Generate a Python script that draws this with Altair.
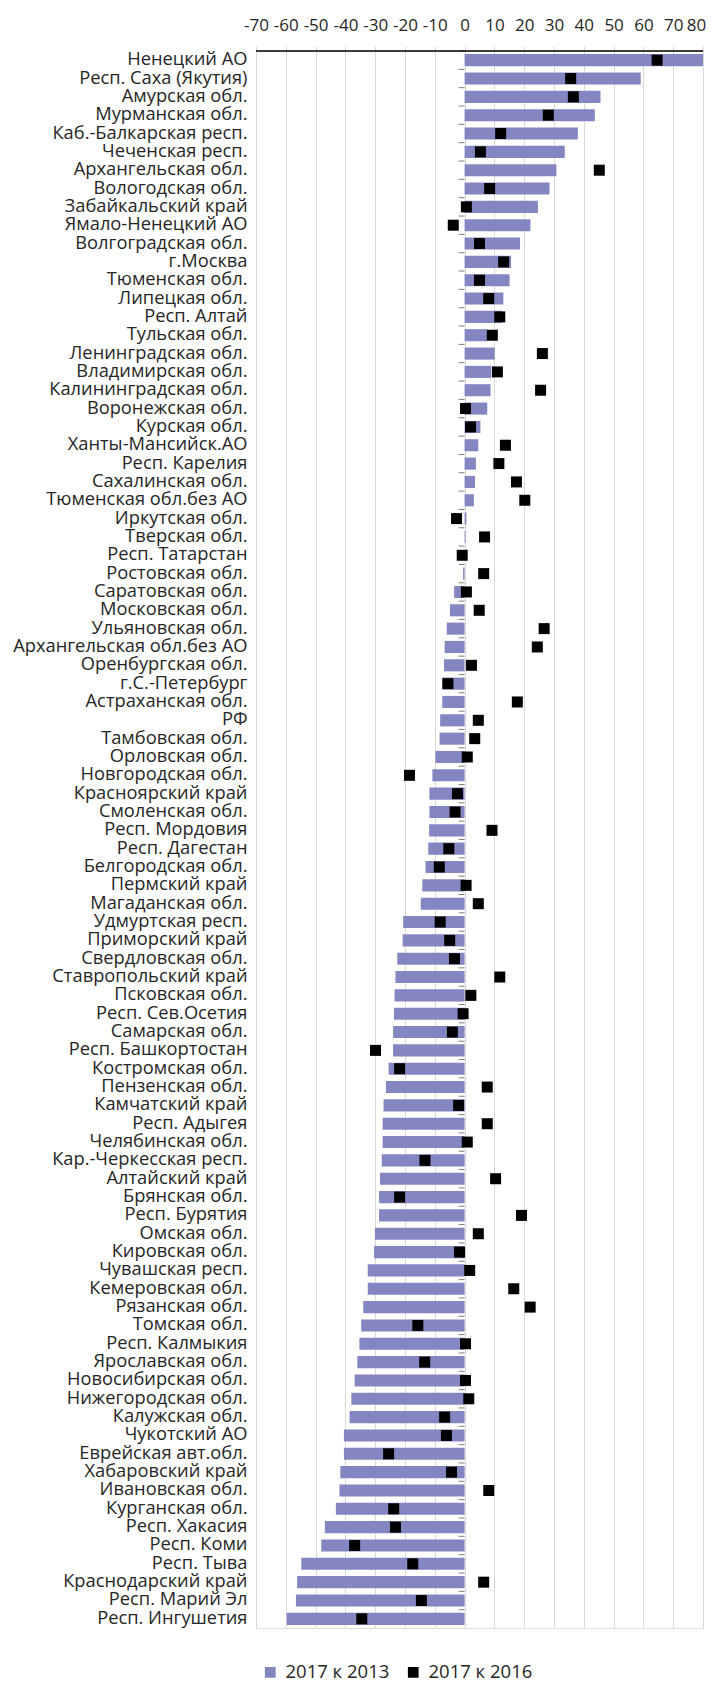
import altair as alt
import pandas as pd

regions = [
    "Ненецкий АО", "Респ. Саха (Якутия)", "Амурская обл.", "Мурманская обл.",
    "Каб.-Балкарская респ.", "Чеченская респ.", "Архангельская обл.", "Вологодская обл.",
    "Забайкальский край", "Ямало-Ненецкий АО", "Волгоградская обл.", "г.Москва",
    "Тюменская обл.", "Липецкая обл.", "Респ. Алтай", "Тульская обл.",
    "Ленинградская обл.", "Владимирская обл.", "Калининградская обл.", "Воронежская обл.",
    "Курская обл.", "Ханты-Мансийск.АО", "Респ. Карелия", "Сахалинская обл.",
    "Тюменская обл.без АО", "Иркутская обл.", "Тверская обл.", "Респ. Татарстан",
    "Ростовская обл.", "Саратовская обл.", "Московская обл.", "Ульяновская обл.",
    "Архангельская обл.без АО", "Оренбургская обл.", "г.С.-Петербург", "Астраханская обл.",
    "РФ", "Тамбовская обл.", "Орловская обл.", "Новгородская обл.",
    "Красноярский край", "Смоленская обл.", "Респ. Мордовия", "Респ. Дагестан",
    "Белгородская обл.", "Пермский край", "Магаданская обл.", "Удмуртская респ.",
    "Приморский край", "Свердловская обл.", "Ставропольский край", "Псковская обл.",
    "Респ. Сев.Осетия", "Самарская обл.", "Респ. Башкортостан", "Костромская обл.",
    "Пензенская обл.", "Камчатский край", "Респ. Адыгея", "Челябинская обл.",
    "Кар.-Черкесская респ.", "Алтайский край", "Брянская обл.", "Респ. Бурятия",
    "Омская обл.", "Кировская обл.", "Чувашская респ.", "Кемеровская обл.",
    "Рязанская обл.", "Томская обл.", "Респ. Калмыкия", "Ярославская обл.",
    "Новосибирская обл.", "Нижегородская обл.", "Калужская обл.", "Чукотский АО",
    "Еврейская авт.обл.", "Хабаровский край", "Ивановская обл.", "Курганская обл.",
    "Респ. Хакасия", "Респ. Коми", "Респ. Тыва", "Краснодарский край",
    "Респ. Марий Эл", "Респ. Ингушетия",
]

v2013 = [
    80.0, 59.1, 45.6, 43.7,
    38.0, 33.6, 30.8, 28.5,
    24.6, 22.1, 18.6, 15.6,
    15.1, 13.0, 12.5, 7.6,
    10.1, 8.9, 8.7, 7.6,
    5.3, 4.6, 3.8, 3.5,
    3.1, 0.6, 0.3, 0.1,
    -0.5, -3.5, -4.9, -6.0,
    -6.7, -6.9, -7.5, -7.5,
    -8.2, -8.4, -9.8, -10.8,
    -11.8, -11.8, -11.9, -12.2,
    -13.1, -14.2, -14.7, -20.6,
    -20.8, -22.6, -23.2, -23.5,
    -23.7, -24.0, -24.0, -25.5,
    -26.4, -27.2, -27.5, -27.5,
    -27.8, -28.4, -28.7, -28.7,
    -30.1, -30.4, -32.5, -32.5,
    -34.0, -34.7, -35.3, -36.0,
    -36.9, -38.0, -38.6, -40.5,
    -40.5, -41.7, -42.0, -43.2,
    -46.9, -48.1, -54.8, -56.2,
    -56.6, -59.7,
]

v2016 = [
    64.6, 35.6, 36.5, 28.1,
    12.1, 5.3, 45.2, 8.4,
    0.6, -3.8, 5.0, 13.1,
    5.0, 8.1, 11.8, 9.3,
    26.1, 11.0, 25.5, 0.3,
    2.0, 13.7, 11.5, 17.4,
    20.2, -2.7, 6.7, -0.8,
    6.4, 0.6, 4.9, 26.7,
    24.4, 2.3, -5.6, 17.7,
    4.6, 3.4, 0.9, -18.5,
    -2.4, -3.2, 9.2, -5.3,
    -8.5, 0.5, 4.6, -8.2,
    -5.0, -3.4, 11.8, 2.1,
    -0.5, -4.1, -29.9, -21.8,
    7.6, -2.0, 7.6, 0.9,
    -13.3, 10.4, -21.8, 19.1,
    4.6, -1.7, 1.7, 16.5,
    22.0, -15.7, 0.3, -13.4,
    0.3, 1.4, -6.7, -6.1,
    -25.5, -4.4, 8.1, -23.8,
    -23.2, -36.9, -17.4, 6.4,
    -14.5, -34.5,
]

x_ticks = [-70, -60, -50, -40, -30, -20, -10, 0, 10, 20, 30, 40, 50, 60, 70, 80]
series_names = ["2017 к 2013", "2017 к 2016"]
series_colors = ["#8486C2", "#000000"]

df = pd.DataFrame({"region": regions, "v13": v2013, "v16": v2016})

W, H = 447, 1577
step = H / len(regions)
FONT = "Open Sans"

xscale = alt.Scale(domain=[x_ticks[0], x_ticks[-1]], nice=False, zero=False)
yscale = alt.Scale(domain=regions, paddingInner=0.34, paddingOuter=0.17)
cscale = alt.Scale(domain=series_names, range=series_colors)

x_axis = alt.Axis(
    orient="top", values=x_ticks, labelExpr="'' + datum.value",
    grid=True, gridColor="#d9d9d9", gridWidth=1,
    domain=False,
    ticks=True, tickColor="#d9d9d9", tickSize=5,
    labelFont=FONT, labelFontSize=17, labelColor="#262626", labelPadding=12,
    labelOffset={"condition": {"test": f"datum.value == {x_ticks[-1]}", "value": -7}, "value": 0},
    labelFlush=False, title=None,
)
y_axis = alt.Axis(
    orient="left", domain=False, ticks=False, grid=False,
    labelFont=FONT, labelFontSize=18.3, labelColor="#262626",
    labelPadding=9, labelLimit=400, title=None,
)

legend = alt.Legend(
    orient="none", legendX=5, legendY=1612, direction="horizontal",
    symbolType="square", symbolSize=115, symbolStrokeWidth=0,
    labelFont=FONT, labelFontSize=18.5, labelColor="#262626",
    labelOffset=6, columnPadding=14, title=None,
)

base = alt.Chart(df)

bars = base.transform_calculate(series=f"'{series_names[0]}'").mark_bar(clip=True).encode(
    x=alt.X("v13:Q", scale=xscale, axis=x_axis),
    x2=alt.datum(0),
    y=alt.Y("region:N", scale=yscale, sort=None, axis=y_axis),
    color=alt.Color("series:N", scale=cscale, legend=legend),
)

cat_ticks = base.mark_rule(color="#7f7f7f", strokeWidth=1, yOffset=-step / 2).encode(
    x=alt.datum(-2, scale=xscale, axis=x_axis),
    x2=alt.datum(0),
    y=alt.Y("region:N", scale=yscale, sort=None, axis=y_axis),
)

squares = base.transform_calculate(series=f"'{series_names[1]}'").mark_square(
    size=121, opacity=1, filled=True
).encode(
    x=alt.X("v16:Q", scale=xscale, axis=x_axis),
    y=alt.Y("region:N", scale=yscale, sort=None, axis=y_axis),
    color=alt.Color("series:N", scale=cscale, legend=legend),
)

top_line = alt.Chart(pd.DataFrame({"a": [x_ticks[0]], "b": [x_ticks[-1]]})).mark_rule(
    color="#000000", strokeWidth=1.5
).encode(
    x=alt.X("a:Q", scale=xscale, axis=x_axis),
    x2="b:Q",
    y=alt.value(0),
)

chart = alt.layer(bars, cat_ticks, squares, top_line).properties(
    width=W, height=H,
    autosize=alt.AutoSizeParams(type="none"),
    padding={"left": 248, "top": 43, "right": 3, "bottom": 60},
).configure_view(strokeWidth=0).configure(background="white")

chart.save("out.html", embed_options={"renderer": "svg", "actions": False})
